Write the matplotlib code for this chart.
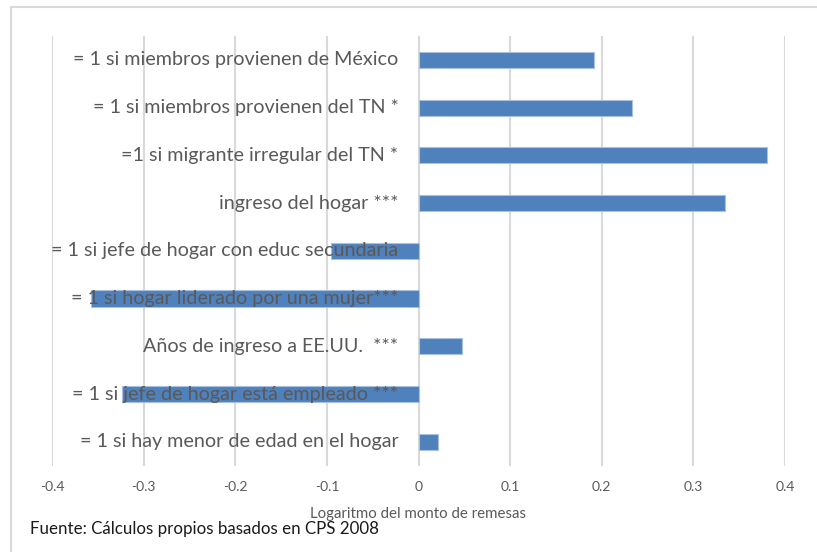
import matplotlib
matplotlib.use("Agg")
import matplotlib.pyplot as plt
from matplotlib.patches import Rectangle

categories = [
    "= 1 si miembros provienen de México",
    "= 1 si miembros provienen del TN *",
    "=1 si migrante irregular del TN *",
    "ingreso del hogar ***",
    "= 1 si jefe de hogar con educ secundaria",
    "= 1 si hogar liderado por una mujer***",
    "Años de ingreso a EE.UU.  ***",
    "= 1 si jefe de hogar está empleado ***",
    "= 1 si hay menor de edad en el hogar",
]
values = [0.192, 0.2325, 0.380, 0.335, -0.096, -0.357, 0.048, -0.324, 0.0215]
xticks = [-0.4, -0.3, -0.2, -0.1, 0, 0.1, 0.2, 0.3, 0.4]
xtick_labels = ["-0.4", "-0.3", "-0.2", "-0.1", "0", "0.1", "0.2", "0.3", "0.4"]

plt.rcParams['font.family'] = ['Lato', 'DejaVu Sans']

W, H = 817, 552
fig = plt.figure(figsize=(W / 100, H / 100), dpi=100)
fig.patch.set_facecolor("white")

# outer chart border
fig.patches.append(Rectangle((10.5 / W, -0.1), 1.2, 1.1 - 6.5 / H, transform=fig.transFigure,
                             fill=False, edgecolor="#d9d9d9", linewidth=1.5))

ax = fig.add_axes([52 / W, (H - 465.7) / H, (785 - 52) / W, (465.7 - 36) / H])
n = len(categories)
ypos = list(range(n - 1, -1, -1))
ax.barh(ypos, values, height=0.34, color="#4f81bd", edgecolor="#a9c0de", linewidth=0.8, zorder=3)
ax.set_xlim(-0.4, 0.4)
ax.set_ylim(-0.5, n - 0.5)
ax.set_xticks(xticks)
ax.set_xticklabels(xtick_labels, fontsize=10, color="#595959")
ax.tick_params(axis="x", length=0, pad=11)
ax.set_yticks([])
for s in ax.spines.values():
    s.set_visible(False)
ax.grid(axis="x", color="#d9d9d9", linewidth=1.5, zorder=0)
ax.set_axisbelow(True)

for y, lab in zip(ypos, categories):
    ax.annotate(lab, xy=(0, y), xytext=(-20, 0), textcoords="offset pixels",
                ha="right", va="center", fontsize=14.2, color="#595959", zorder=5)

fig.text(418 / W, 1 - 514 / H, "Logaritmo del monto de remesas", ha="center", va="center",
         fontsize=10.8, color="#595959")
fig.text(30 / W, 1 - 529 / H, "Fuente: Cálculos propios basados en CPS 2008", ha="left", va="center",
         fontsize=12.2, color="#1a1a1a")

fig.savefig("out.png", dpi=100, facecolor="white")
